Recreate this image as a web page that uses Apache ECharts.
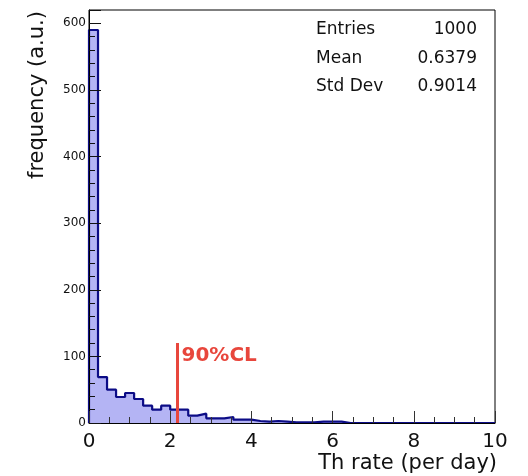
<!DOCTYPE html>
<html>
<head>
<meta charset="utf-8">
<script src="https://cdn.jsdelivr.net/npm/echarts@6/dist/echarts.min.js"></script>
<style>
html,body{margin:0;padding:0;background:#fff;}
#chart{width:528px;height:476px;}
</style>
</head>
<body>
<div id="chart"></div>
<script>
// Histogram definition
const xMin = 0;
const xMax = 10;
const nBins = 45;
const binCounts = [590, 69, 50, 39, 45, 36, 26, 20, 26, 20, 20, 11, 14, 7, 7, 9, 5, 5, 3, 2, 3, 2, 1, 1, 1, 2, 2, 2,
  0, 0, 0, 0, 0, 0, 0, 0, 0, 0, 0, 0, 0, 0, 0, 0, 0];
const xTicks = [0, 2, 4, 6, 8, 10];
const yTicks = [0, 100, 200, 300, 400, 500, 600];
const statsLabels = ['Entries', 'Mean', 'Std Dev'];
const statsValues = ['1000', '0.6379', '0.9014'];
const clValue = 2.18;
const clLineTop = 120;
const clLabelY = 101;
const clLabel = '90%CL';
const xTitle = 'Th rate (per day)';
const yTitle = 'frequency (a.u.)';

// build step data from bin edges
const binWidth = (xMax - xMin) / nBins;
const stepData = [[xMin, 0]];
binCounts.forEach((c, i) => stepData.push([xMin + i * binWidth, c]));
stepData.push([xMax, 0]);

const FONT = 'DejaVu Sans';
const chart = echarts.init(document.getElementById('chart'), null, {renderer: 'canvas'});

const statsGraphics = [];
statsLabels.forEach((t, i) => {
  statsGraphics.push({type: 'text', x: 316, y: 30 + i * 28.5,
    style: {text: t, font: '17px "DejaVu Sans"', fill: '#111', align: 'left', verticalAlign: 'middle'}});
});
statsValues.forEach((t, i) => {
  statsGraphics.push({type: 'text', x: 477, y: 30 + i * 28.5,
    style: {text: t, font: '17px "DejaVu Sans"', fill: '#111', align: 'right', verticalAlign: 'middle'}});
});

const option = {
  animation: false,
  backgroundColor: '#fff',
  grid: {left: 89, right: 33, top: 10, bottom: 53, show: true, borderColor: '#000', borderWidth: 1, backgroundColor: 'transparent'},
  xAxis: {
    type: 'value', min: xMin, max: xMax, interval: 2, z: 10,
    axisLine: {show: true, lineStyle: {color: '#000', width: 1}},
    axisTick: {show: true, inside: true, length: 12, lineStyle: {color: '#333', width: 1}},
    minorTick: {show: true, splitNumber: 4, length: 6, lineStyle: {color: '#333', width: 1}},
    splitLine: {show: false},
    axisLabel: {fontFamily: FONT, fontSize: 20, color: '#111', margin: 9,
      formatter: v => xTicks.includes(v) ? String(v) : ''}
  },
  yAxis: {
    type: 'value', min: 0, max: 620, interval: 100, z: 10,
    axisLine: {show: true, lineStyle: {color: '#000', width: 1}},
    axisTick: {show: true, inside: true, length: 12, lineStyle: {color: '#111', width: 1}},
    minorTick: {show: true, splitNumber: 5, length: 6, lineStyle: {color: '#111', width: 1}},
    splitLine: {show: false},
    axisLabel: {fontFamily: FONT, fontSize: 12, color: '#111', margin: 3,
      formatter: v => yTicks.includes(v) ? String(v) : ''}
  },
  series: [
    {
      type: 'line', step: 'end', data: stepData, showSymbol: false, symbol: 'none',
      lineStyle: {color: '#0c0c86', width: 2.2},
      areaStyle: {color: '#b4b4f4', opacity: 1, origin: 'start'},
      z: 2
    },
    {
      type: 'line', data: [[clValue, 0], [clValue, clLineTop]], showSymbol: false, symbol: 'none',
      lineStyle: {color: '#e8463c', width: 3}, z: 3
    },
    {
      type: 'scatter', data: [[clValue, clLabelY]], symbolSize: 0, z: 4,
      itemStyle: {opacity: 1},
      label: {show: true, position: 'right', distance: 4, formatter: clLabel,
        fontFamily: FONT, fontWeight: 'bold', fontSize: 20, color: '#e8463c'}
    }
  ],
  graphic: statsGraphics.concat([
    {type: 'text', x: 38, y: 95, rotation: Math.PI / 2, style: {text: yTitle, font: '21px "DejaVu Sans"', fill: '#111', align: 'center', verticalAlign: 'middle'}},
    {type: 'text', x: 497, y: 464, style: {text: xTitle, font: '21px "DejaVu Sans"', fill: '#111', align: 'right', verticalAlign: 'middle'}}
  ])
};
chart.setOption(option);
</script>
</body>
</html>
